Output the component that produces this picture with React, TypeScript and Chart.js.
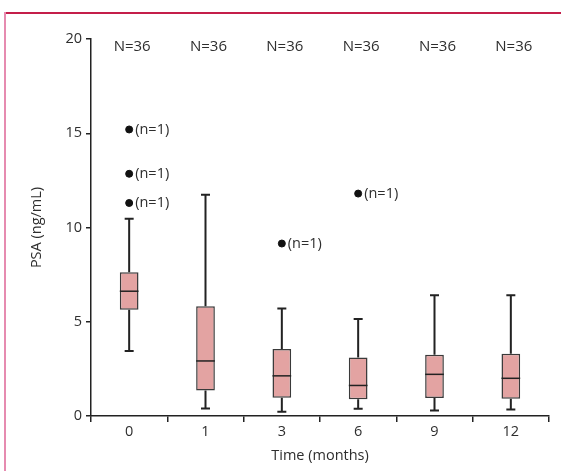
import React, { useEffect, useRef } from 'react';
import { Chart, registerables } from 'chart.js';

Chart.register(...registerables);

const categories = ['0', '1', '3', '6', '9', '12'];
const whiskerLow = [3.45, 0.4, 0.22, 0.38, 0.29, 0.34];
const q1 = [5.63, 1.35, 0.97, 0.89, 0.96, 0.92];
const median = [6.62, 2.92, 2.13, 1.62, 2.21, 2.0];
const q3 = [7.63, 5.82, 3.55, 3.1, 3.25, 3.3];
const whiskerHigh = [10.46, 11.74, 5.7, 5.15, 6.4, 6.4];
const sampleSizes = [36, 36, 36, 36, 36, 36];
const outlierCats = ['0', '0', '0', '3', '6'];
const outlierValues = [15.2, 12.85, 11.3, 9.15, 11.8];
const outlierLabels = ['(n=1)', '(n=1)', '(n=1)', '(n=1)', '(n=1)'];
const yTicks = [0, 5, 10, 15, 20];

const FONT = '"Open Sans", "Noto Sans", sans-serif';
const TEXT = '#2e2e2e';
const LINE = '#222222';

const boxPlugin = {
  id: 'boxExtras',
  beforeDatasetsDraw(chart: any) {
    const { ctx, scales } = chart;
    const x = scales.x, y = scales.y;
    ctx.save();
    ctx.strokeStyle = LINE;
    ctx.lineWidth = 2;
    const capHalf = 4.5;
    categories.forEach((c, i) => {
      const px = x.getPixelForValue(i);
      const yl = y.getPixelForValue(whiskerLow[i]);
      const yq1 = y.getPixelForValue(q1[i]);
      const yq3 = y.getPixelForValue(q3[i]);
      const yh = y.getPixelForValue(whiskerHigh[i]);
      ctx.beginPath();
      ctx.moveTo(px, yl); ctx.lineTo(px, yq1);
      ctx.moveTo(px, yq3); ctx.lineTo(px, yh);
      ctx.moveTo(px - capHalf, yl); ctx.lineTo(px + capHalf, yl);
      ctx.moveTo(px - capHalf, yh); ctx.lineTo(px + capHalf, yh);
      ctx.stroke();
    });
    ctx.restore();
  },
  afterDatasetsDraw(chart: any) {
    const { ctx, scales } = chart;
    const x = scales.x, y = scales.y;
    const meta = chart.getDatasetMeta(0);
    ctx.save();
    ctx.strokeStyle = LINE;
    ctx.lineWidth = 1.5;
    categories.forEach((c, i) => {
      const bar = meta.data[i];
      const half = bar.width / 2;
      const px = x.getPixelForValue(i);
      const ym = y.getPixelForValue(median[i]);
      ctx.beginPath();
      ctx.moveTo(px - half, ym); ctx.lineTo(px + half, ym);
      ctx.stroke();
    });
    // N labels
    ctx.fillStyle = TEXT;
    ctx.font = `15px ${FONT}`;
    ctx.textAlign = 'center';
    ctx.textBaseline = 'middle';
    categories.forEach((c, i) => {
      const px = x.getPixelForValue(i);
      ctx.fillText(`N=${sampleSizes[i]}`, px + 3, y.getPixelForValue(20) + 8);
    });
    // outlier labels
    ctx.font = `14.5px ${FONT}`;
    ctx.textAlign = 'left';
    outlierCats.forEach((c, k) => {
      const px = x.getPixelForValue(categories.indexOf(c));
      const py = y.getPixelForValue(outlierValues[k]);
      ctx.fillText(outlierLabels[k], px + 6, py);
    });
    ctx.restore();
  },
};

export default function App() {
  const ref = useRef<HTMLCanvasElement>(null);
  useEffect(() => {
    if (!ref.current) return;
    const chart = new Chart(ref.current, {
      type: 'bar',
      data: {
        labels: categories,
        datasets: [
          {
            type: 'bar',
            data: categories.map((c, i) => [q1[i], q3[i]]) as any,
            backgroundColor: '#e3a3a2',
            borderColor: '#3a3a3a',
            borderWidth: 1.5,
            borderSkipped: false,
            barPercentage: 0.245,
            categoryPercentage: 1,
          },
          {
            type: 'scatter',
            data: outlierCats.map((c, k) => ({ x: c, y: outlierValues[k] })) as any,
            backgroundColor: '#111111',
            borderColor: '#111111',
            pointRadius: 3.5,
            pointHoverRadius: 3.5,
          } as any,
        ],
      },
      options: {
        animation: false,
        responsive: true,
        maintainAspectRatio: false,
        events: [],
        layout: { padding: { left: 0, right: 12, top: 39, bottom: 0 } },
        plugins: { legend: { display: false }, tooltip: { enabled: false } },
        scales: {
          x: {
            type: 'category',
            offset: true,
            grid: {
              offset: true,
              drawOnChartArea: false,
              drawTicks: true,
              tickLength: 6,
              color: LINE,
              lineWidth: 1.5,
            },
            border: { display: true, color: LINE, width: 1.5 },
            ticks: { color: TEXT, font: { family: FONT, size: 14.5 }, padding: 1 },
            title: {
              display: true,
              text: 'Time (months)',
              color: TEXT,
              font: { family: FONT, size: 14.5 },
              padding: { top: 0, bottom: 6 },
            },
            afterFit(scale: any) { scale.height = 55; },
          },
          y: {
            min: 0,
            max: 20,
            afterBuildTicks(scale: any) { scale.ticks = yTicks.map((v) => ({ value: v })); },
            grid: {
              drawOnChartArea: false,
              drawTicks: true,
              tickLength: 5,
              color: LINE,
              lineWidth: 1.5,
            },
            border: { display: true, color: LINE, width: 1.5 },
            ticks: { color: TEXT, font: { family: FONT, size: 14.5 }, padding: 4 },
            title: {
              display: true,
              text: 'PSA (ng/mL)',
              color: TEXT,
              font: { family: FONT, size: 14.5 },
              padding: { top: 28, bottom: 0 },
            },
            afterFit(scale: any) { scale.width = 91; },
          },
        },
      },
      plugins: [boxPlugin],
    });
    return () => chart.destroy();
  }, []);
  return (
    <div style={{ position: 'absolute', left: 0, top: 0, width: 561, height: 471, background: '#fff' }}>
      <div style={{ position: 'absolute', left: 4, top: 12, width: 557, height: 1.5, background: '#c41e4a' }} />
      <div style={{ position: 'absolute', left: 4, top: 12, width: 2, height: 459, background: '#e68bb0' }} />
      <canvas ref={ref} style={{ position: 'absolute', left: 0, top: 0, width: 561, height: 471 }} />
    </div>
  );
}
